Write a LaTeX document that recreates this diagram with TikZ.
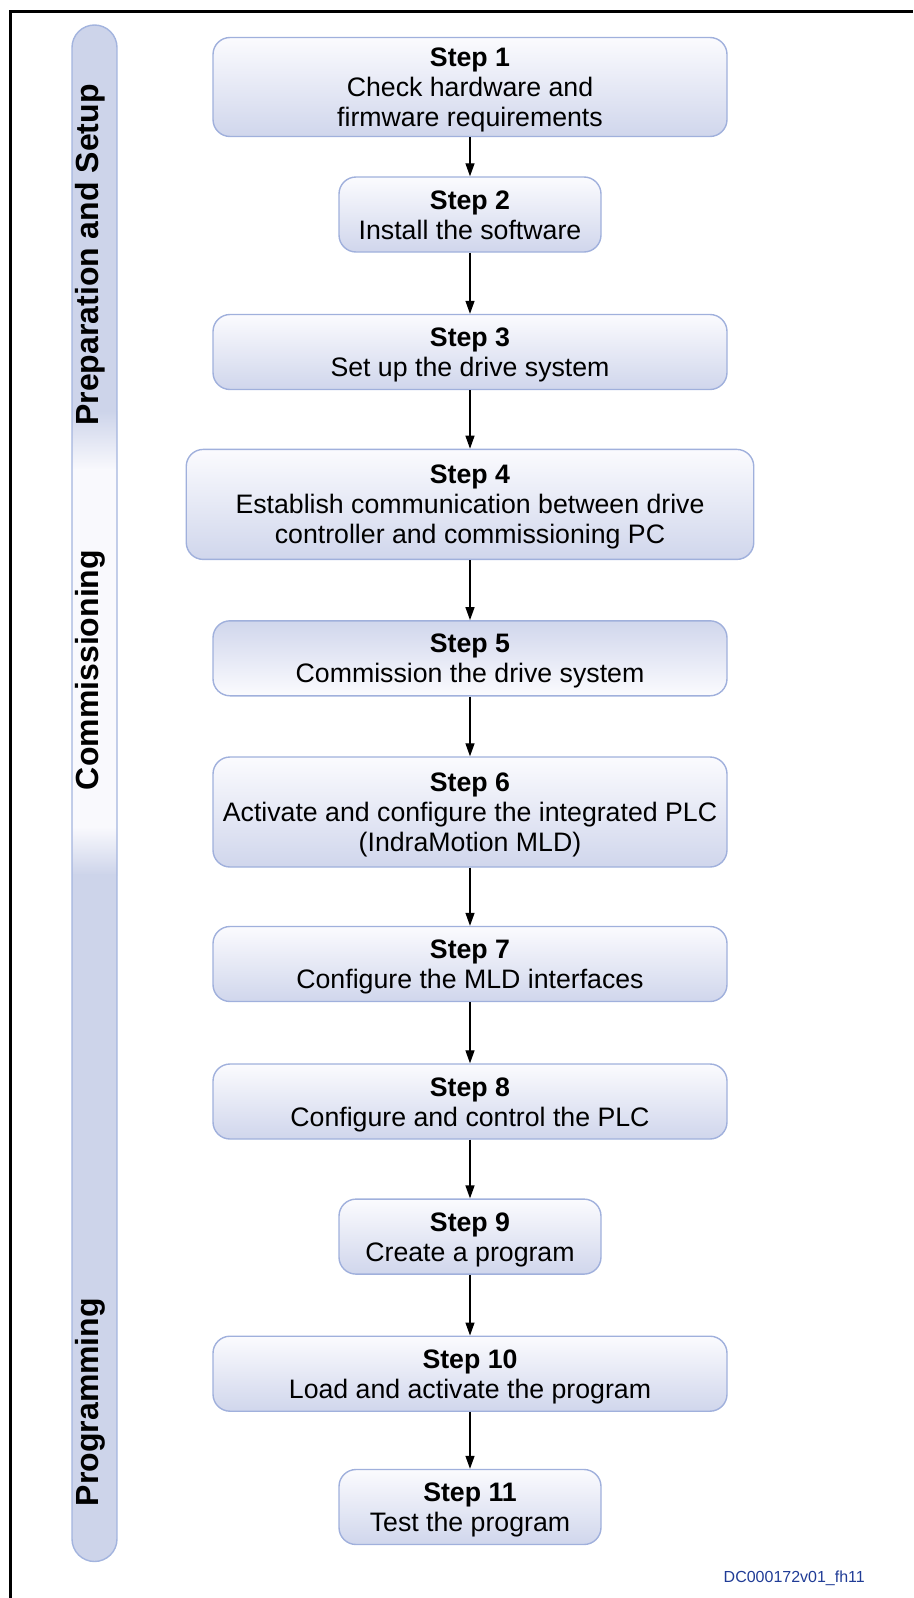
\documentclass[tikz,border=0pt]{standalone}
\usepackage{fontspec}
\setmainfont{Liberation Sans}
\usetikzlibrary{arrows.meta}

\definecolor{boxline}{RGB}{160,176,220}
\definecolor{boxtop}{RGB}{251,251,254}
\definecolor{boxbot}{RGB}{208,214,236}
\definecolor{barfill}{RGB}{205,212,234}
\definecolor{barlight}{RGB}{249,249,253}
\definecolor{barline}{RGB}{163,180,222}
\definecolor{dcblue}{RGB}{32,60,150}

\begin{document}
\begin{tikzpicture}[x=1pt,y=-1pt,
  stepbox/.style={draw=boxline, line width=1.4pt, rounded corners=17pt,
    inner sep=0pt, top color=boxtop, bottom color=boxbot,
    font=\fontsize{26.7}{30}\selectfont, text height=19.1pt, align=center},
  flipped/.style={top color=boxbot, bottom color=boxtop},
  wide/.style={minimum width=514pt},
  narrow/.style={minimum width=262pt},
  two/.style={minimum height=75pt, text depth=30pt},
  three/.style={minimum height=110pt, text depth=60pt},
  phase/.style={rotate=90, anchor=base, inner sep=0pt,
    font=\fontsize{32}{36}\selectfont\bfseries},
  flow/.style={-{Triangle[length=13pt,width=9pt]}, line width=1.3pt, black}]

\useasboundingbox (0,0) rectangle (913,1598);

% outer frame: top and left edges only
\draw[line width=2.8pt] (10.5,1598) -- (10.5,11.3) -- (913,11.3);

% phase bar with its shaded bands
\begin{scope}
  \clip[rounded corners=22.5pt] (72,25) rectangle (117,1561.5);
  \fill[barfill] (72,25) rectangle (117,412);
  \shade[top color=barfill, bottom color=barlight] (72,411) rectangle (117,470);
  \fill[barlight] (72,469) rectangle (117,828);
  \shade[top color=barlight, bottom color=barfill] (72,827) rectangle (117,875);
  \fill[barfill] (72,874) rectangle (117,1561.5);
\end{scope}
\draw[barline, line width=1.4pt, rounded corners=22.5pt] (72,25) rectangle (117,1561.5);

\node (prep) [phase] at (98.5,255) {Preparation and Setup};
\node (comm) [phase] at (98.5,670) {Commissioning};
\node (prog) [phase] at (98.5,1402) {Programming};

% steps
\node (s1) [stepbox, wide, minimum height=99pt, text depth=60pt] at (470,87)
  {\begin{tabular}[t]{@{}c@{}}\textbf{Step 1}\\Check hardware and\\firmware requirements\end{tabular}};
\node (s2) [stepbox, narrow, two] at (470,214.5)
  {\begin{tabular}[t]{@{}c@{}}\textbf{Step 2}\\Install the software\end{tabular}};
\node (s3) [stepbox, wide, two] at (470,352)
  {\begin{tabular}[t]{@{}c@{}}\textbf{Step 3}\\Set up the drive system\end{tabular}};
\node (s4) [stepbox, three, minimum width=567.5pt] at (470,504.4)
  {\begin{tabular}[t]{@{}c@{}}\textbf{Step 4}\\Establish communication between drive\\controller and commissioning PC\end{tabular}};
\node (s5) [stepbox, flipped, wide, two] at (470,658.3)
  {\begin{tabular}[t]{@{}c@{}}\textbf{Step 5}\\Commission the drive system\end{tabular}};
\node (s6) [stepbox, wide, three] at (470,812)
  {\begin{tabular}[t]{@{}c@{}}\textbf{Step 6}\\Activate and configure the integrated PLC\\(IndraMotion MLD)\end{tabular}};
\node (s7) [stepbox, wide, two] at (470,964)
  {\begin{tabular}[t]{@{}c@{}}\textbf{Step 7}\\Configure the MLD interfaces\end{tabular}};
\node (s8) [stepbox, wide, two] at (470,1101.5)
  {\begin{tabular}[t]{@{}c@{}}\textbf{Step 8}\\Configure and control the PLC\end{tabular}};
\node (s9) [stepbox, narrow, two] at (470,1236.6)
  {\begin{tabular}[t]{@{}c@{}}\textbf{Step 9}\\Create a program\end{tabular}};
\node (s10) [stepbox, wide, two] at (470,1373.7)
  {\begin{tabular}[t]{@{}c@{}}\textbf{Step 10}\\Load and activate the program\end{tabular}};
\node (s11) [stepbox, narrow, two] at (470,1507)
  {\begin{tabular}[t]{@{}c@{}}\textbf{Step 11}\\Test the program\end{tabular}};

% connectors
\foreach \a/\b in {s1/s2,s2/s3,s3/s4,s4/s5,s5/s6,s6/s7,s7/s8,s8/s9,s9/s10,s10/s11}
  \draw[flow] (\a.south) -- (\b.north);

\node (dc) [anchor=base west, inner sep=0pt, text=dcblue,
  font=\fontsize{16}{19}\selectfont] at (723.5,1582) {DC000172v01\_fh11};
\end{tikzpicture}
\end{document}
